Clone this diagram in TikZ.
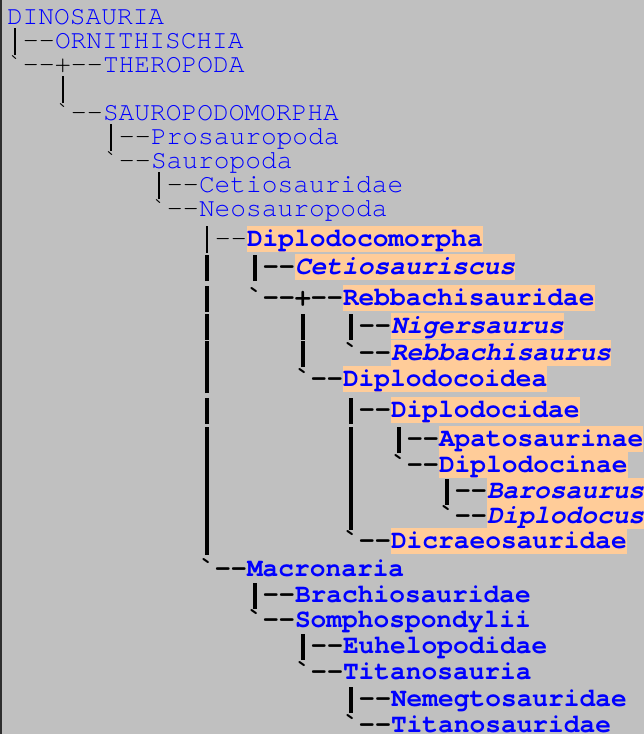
\documentclass[tikz,border=0pt]{standalone}
\usepackage{fontspec}
\setmonofont{TeX Gyre Cursor}
\definecolor{panel}{HTML}{C0C0C0}
\definecolor{rim}{HTML}{2E2E2E}
\definecolor{taxon}{HTML}{0000FF}
\definecolor{clade}{HTML}{FFCC99}
\frenchspacing
% tall vertical bars, one character cell wide, so that stacked rows join up
\newcommand\tbar{\makebox[16pt]{\rule[-7pt]{1.5pt}{27pt}}}
\newcommand\tbarb{\makebox[16pt]{\rule[-7pt]{3.2pt}{26pt}}}
\begin{document}
\begin{tikzpicture}[x=1pt,y=-1pt,
  every node/.style={inner sep=0pt, outer sep=0pt},
  % tree glyphs (bars, ticks, dashes) set just before each name
  glyphs/.style={font={\fontsize{26.67pt}{30pt}\ttfamily}, text=black, anchor=base east},
  glyphsb/.style={glyphs, font={\fontsize{26.67pt}{30pt}\ttfamily\bfseries}},
  % taxon names
  taxname/.style={font={\fontsize{26.2pt}{30pt}\ttfamily}, text=taxon, anchor=base west},
  taxbold/.style={taxname, font={\fontsize{26.2pt}{30pt}\ttfamily\bfseries}},
  genus/.style={taxname, font={\fontsize{26.2pt}{30pt}\ttfamily\bfseries\itshape}},
  hl/.style={fill=clade, text height=20pt, text depth=6pt}]
\useasboundingbox (0,0) rectangle (644,734);
\clip (0,0) rectangle (644,734);
\fill[panel] (0,0) rectangle (644,734);
\fill[rim] (0,0) rectangle (1.5,734);

% upper part of the tree
\node[taxname] (dinosauria) at (7,24) {DINOSAURIA};
\node[taxname] (ornithischia) at (55,48) {ORNITHISCHIA};
\node[glyphs] at (ornithischia.base west) {\tbar--};
\node[taxname] (theropoda) at (103,72) {THEROPODA};
\node[glyphs] at (theropoda.base west) {`--+--};
\node[glyphs, anchor=base west] (stem) at (55,96) {\tbar};
\node[taxname] (sauropodomorpha) at (103,120) {SAUROPODOMORPHA};
\node[glyphs] at (sauropodomorpha.base west) {`--};
\node[taxname] (prosauropoda) at (151,144) {Prosauropoda};
\node[glyphs] at (prosauropoda.base west) {\tbar--};
\node[taxname] (sauropoda) at (151,168) {Sauropoda};
\node[glyphs] at (sauropoda.base west) {`--};
\node[taxname] (cetiosauridae) at (199,192) {Cetiosauridae};
\node[glyphs] at (cetiosauridae.base west) {\tbar--};
\node[taxname] (neosauropoda) at (199,216) {Neosauropoda};
\node[glyphs] at (neosauropoda.base west) {`--};

% Diplodocomorpha (highlighted clade)
\node[taxbold, hl] (diplodocomorpha) at (247,246) {Diplodocomorpha};
\node[glyphs] at (diplodocomorpha.base west) {\tbar--};
\node[genus, hl] (cetiosauriscus) at (295,274) {Cetiosauriscus};
\node[glyphsb] at (cetiosauriscus.base west) {\tbarb~~\tbarb--};
\node[taxbold, hl] (rebbachisauridae) at (343,305) {Rebbachisauridae};
\node[glyphsb] at (rebbachisauridae.base west) {\tbarb~~`--+--};
\node[genus, hl] (nigersaurus) at (391,333) {Nigersaurus};
\node[glyphsb] at (nigersaurus.base west) {\tbarb~~~~~\tbarb~~\tbarb--};
\node[genus, hl] (rebbachisaurus) at (391,360) {Rebbachisaurus};
\node[glyphsb] at (rebbachisaurus.base west) {\tbarb~~~~~\tbarb~~`--};
\node[taxbold, hl] (diplodocoidea) at (343,386) {Diplodocoidea};
\node[glyphsb] at (diplodocoidea.base west) {\tbarb~~~~~`--};
\node[taxbold, hl] (diplodocidae) at (391,417) {Diplodocidae};
\node[glyphsb] at (diplodocidae.base west) {\tbarb~~~~~~~~\tbarb--};
\node[taxbold, hl] (apatosaurinae) at (439,446) {Apatosaurinae};
\node[glyphsb] at (apatosaurinae.base west) {\tbarb~~~~~~~~\tbarb~~\tbarb--};
\node[taxbold, hl] (diplodocinae) at (439,472) {Diplodocinae};
\node[glyphsb] at (diplodocinae.base west) {\tbarb~~~~~~~~\tbarb~~`--};
\node[genus, hl] (barosaurus) at (487,498) {Barosaurus};
\node[glyphsb] at (barosaurus.base west) {\tbarb~~~~~~~~\tbarb~~~~~\tbarb--};
\node[genus, hl] (diplodocus) at (487,523) {Diplodocus};
\node[glyphsb] at (diplodocus.base west) {\tbarb~~~~~~~~\tbarb~~~~~`--};
\node[taxbold, hl] (dicraeosauridae) at (391,548) {Dicraeosauridae};
\node[glyphsb] at (dicraeosauridae.base west) {\tbarb~~~~~~~~`--};

% Macronaria
\node[taxbold] (macronaria) at (247,576) {Macronaria};
\node[glyphsb] at (macronaria.base west) {`--};
\node[taxbold] (brachiosauridae) at (295,602) {Brachiosauridae};
\node[glyphsb] at (brachiosauridae.base west) {\tbarb--};
\node[taxbold] (somphospondylii) at (295,627) {Somphospondylii};
\node[glyphsb] at (somphospondylii.base west) {`--};
\node[taxbold] (euhelopodidae) at (343,653) {Euhelopodidae};
\node[glyphsb] at (euhelopodidae.base west) {\tbarb--};
\node[taxbold] (titanosauria) at (343,679) {Titanosauria};
\node[glyphsb] at (titanosauria.base west) {`--};
\node[taxbold] (nemegtosauridae) at (391,706) {Nemegtosauridae};
\node[glyphsb] at (nemegtosauridae.base west) {\tbarb--};
\node[taxbold] (titanosauridae) at (391,732) {Titanosauridae};
\node[glyphsb] at (titanosauridae.base west) {`--};
\end{tikzpicture}
\end{document}
